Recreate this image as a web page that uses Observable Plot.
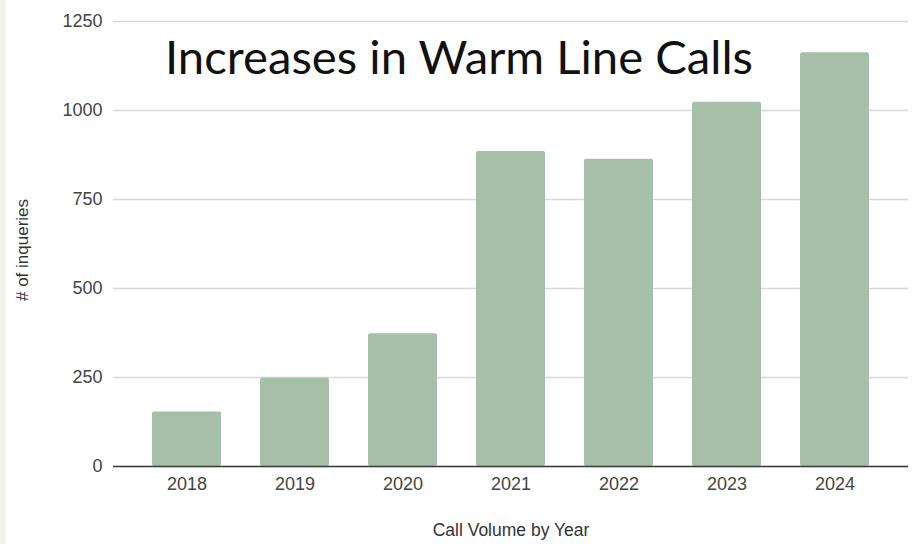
<!DOCTYPE html>
<html><head><meta charset="utf-8">
<script src="https://cdn.jsdelivr.net/npm/d3@7"></script>
<script src="https://cdn.jsdelivr.net/npm/@observablehq/plot@0.6"></script>
<style>body{margin:0;background:#fff;overflow:hidden;}</style>
</head><body><div id="chart"></div>
<script>
const years = ["2018","2019","2020","2021","2022","2023","2024"];
const calls = [153, 248, 373, 885, 863, 1023, 1162];
const yTicks = [0, 250, 500, 750, 1000, 1250];
const title = "Increases in Warm Line Calls";
const xLabel = "Call Volume by Year";
const yLabel = "# of inqueries";

const data = years.map((y, i) => ({year: y, calls: calls[i]}));

const plot = Plot.plot({
  width: 921, height: 544,
  marginLeft: 113, marginRight: 13, marginTop: 21, marginBottom: 78,
  style: {fontFamily: "'Liberation Sans', Arial, sans-serif", fontSize: "18px", color: "#444", background: "transparent"},
  x: {domain: years, padding: 0.36, label: null},
  y: {domain: [0, 1250], label: null},
  marks: [
    Plot.gridY(yTicks, {stroke: "#d8d8d8", strokeOpacity: 1, strokeWidth: 1.5}),
    Plot.barY(data, {x: "year", y: "calls", fill: "#a6bfa8", rx: 2}),
    Plot.ruleY([0], {stroke: "#3a3a3a", strokeWidth: 1.5}),
    Plot.axisX({tickSize: 0, tickPadding: 11, label: null}),
    Plot.axisY(yTicks, {tickSize: 0, tickPadding: 11, label: null, tickFormat: d3.format("d")})
  ]
});
document.getElementById("chart").appendChild(plot);

const svg = d3.select(plot);
svg.insert("rect", ":first-child")
  .attr("x", 0).attr("y", 0).attr("width", 6).attr("height", 544).attr("fill", "#f2f2ee");
svg.append("text").text(title)
  .attr("x", 165).attr("y", 74)
  .attr("text-anchor", "start")
  .attr("font-family", "Lato, 'Noto Sans', sans-serif")
  .attr("font-weight", 400)
  .attr("font-size", 47).attr("fill", "#111")
  .attr("textLength", 588).attr("lengthAdjust", "spacingAndGlyphs");
svg.append("text").text(yLabel)
  .attr("transform", "translate(22,250) rotate(-90)")
  .attr("text-anchor", "middle").attr("dominant-baseline", "central")
  .attr("font-family", "'Liberation Sans', Arial, sans-serif")
  .attr("font-size", 17).attr("fill", "#333");
svg.append("text").text(xLabel)
  .attr("x", 511).attr("y", 536)
  .attr("text-anchor", "middle")
  .attr("font-family", "'Liberation Sans', Arial, sans-serif")
  .attr("font-size", 17.5).attr("fill", "#333");
</script>
</body></html>
